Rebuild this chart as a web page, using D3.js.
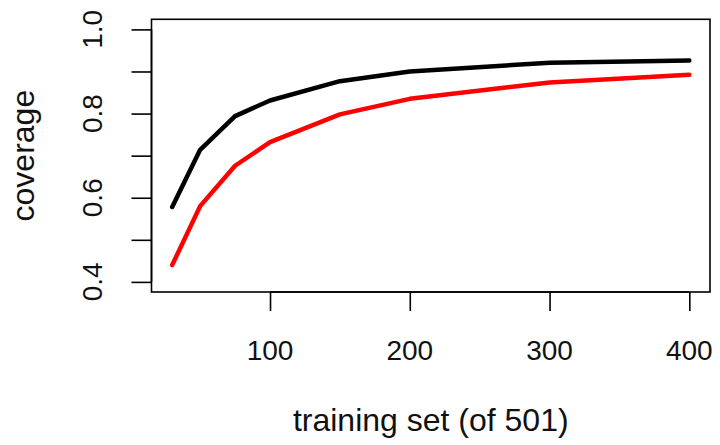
<html>
	<head>
		<script type="text/javascript" src="https://cdn.jsdelivr.net/npm/d3@7"></script>
		<style>
			body{
				margin:0;
				background:#fff;
			}
			svg{
				font-family:"Liberation Sans", Arial, sans-serif;
				display:block;
			}
			.graph path{
				fill:none;
				stroke-width:4.5px;
				stroke-linejoin:round;
				stroke-linecap:round;
			}
		</style>
	</head>
	<body>
		<div id="container"></div>
		<script type="text/javascript">

			// training set sizes (x) and coverage of the two runs
			var sizes = [30, 50, 75, 100, 150, 200, 300, 400];
			var coverageBlack = [0.578, 0.714, 0.794, 0.831, 0.877, 0.900, 0.921, 0.926];
			var coverageRed = [0.440, 0.580, 0.676, 0.732, 0.798, 0.835, 0.874, 0.892];
			var xTicks = [100, 200, 300, 400];
			var yTicks = [0.4, 0.5, 0.6, 0.7, 0.8, 0.9, 1.0];
			var yLabels = [0.4, 0.6, 0.8, 1.0];

			var width = 720, height = 445;
			var mLeft = 151.5, mRight = 710, mTop = 19.3, mBottom = 292;

			var svg = d3.select("#container")
				.append("svg")
				.attr("width", width)
				.attr("height", height);

			// R style 4% padding around the data / ylim
			var x = d3.scaleLinear()
				.domain([30 - 370*0.04, 400 + 370*0.04])
				.range([mLeft, mRight]);

			var y = d3.scaleLinear()
				.domain([0.4 - 0.6*0.04, 1.0 + 0.6*0.04])
				.range([mBottom, mTop]);

			var line = d3.line()
				.x(function(d,i){ return x(sizes[i]); })
				.y(function(d,i){ return y(d); });

			var graph = svg.append("g").attr("class", "graph");

			graph.append("path")
				.datum(coverageBlack)
				.attr("stroke", "#000")
				.attr("d", line);

			graph.append("path")
				.datum(coverageRed)
				.attr("stroke", "#ff0000")
				.attr("d", line);

			// box
			svg.append("rect")
				.attr("x", mLeft)
				.attr("y", mTop)
				.attr("width", mRight-mLeft)
				.attr("height", mBottom-mTop)
				.attr("fill", "none")
				.attr("stroke", "#000")
				.attr("stroke-width", 1.6);

			// x axis (ticks, labels placed below like R)
			var xAxis = d3.axisBottom(x)
				.tickValues(xTicks)
				.tickSize(19)
				.tickFormat("");

			var gx = svg.append("g")
				.attr("transform", "translate(0," + mBottom + ")")
				.call(xAxis);
			gx.select(".domain")
				.attr("d", "M" + x(xTicks[0]) + ",0H" + x(xTicks[xTicks.length-1]));
			gx.selectAll("line, path").attr("stroke", "#000").attr("stroke-width", 1.6);

			svg.append("g").selectAll("text").data(xTicks).enter().append("text")
				.attr("x", function(d){ return x(d); })
				.attr("y", 360)
				.attr("text-anchor", "middle")
				.attr("font-size", 28)
				.attr("fill", "#111")
				.text(function(d){ return d; });

			// y axis
			var yAxis = d3.axisLeft(y)
				.tickValues(yTicks)
				.tickSize(20)
				.tickFormat("");

			var gy = svg.append("g")
				.attr("transform", "translate(" + mLeft + ",0)")
				.call(yAxis);
			gy.select(".domain")
				.attr("d", "M0," + y(yTicks[0]) + "V" + y(yTicks[yTicks.length-1]));
			gy.selectAll("line, path").attr("stroke", "#000").attr("stroke-width", 1.6);

			svg.append("g").selectAll("text").data(yLabels).enter().append("text")
				.attr("transform", function(d){ return "translate(102," + y(d) + ") rotate(-90)"; })
				.attr("text-anchor", "middle")
				.attr("font-size", 28)
				.attr("fill", "#111")
				.text(function(d){ return d3.format(".1f")(d); });

			// axis titles
			svg.append("text")
				.attr("x", (mLeft+mRight)/2)
				.attr("y", 431)
				.attr("text-anchor", "middle")
				.attr("font-size", 32)
				.attr("fill", "#111")
				.text("training set (of 501)");

			svg.append("text")
				.attr("transform", "translate(34," + ((mTop+mBottom)/2) + ") rotate(-90)")
				.attr("text-anchor", "middle")
				.attr("font-size", 32)
				.attr("fill", "#111")
				.text("coverage");

		</script>
	</body>
</html>
